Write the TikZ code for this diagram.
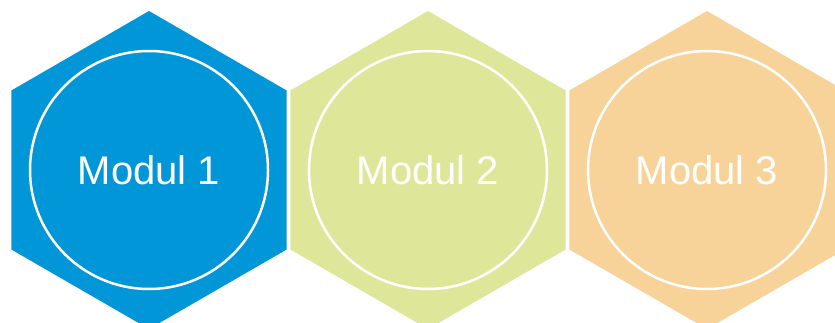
\documentclass[tikz,border=0pt]{standalone}
\usepackage{fontspec}
\setmainfont{Liberation Sans}
\usetikzlibrary{shapes.geometric}
\definecolor{modblue}{RGB}{0,150,215}
\definecolor{modgreen}{RGB}{222,231,153}
\definecolor{modorange}{RGB}{248,211,153}
\tikzset{
  hexa/.style={regular polygon, regular polygon sides=6, shape border rotate=30,
    minimum size=318pt, inner sep=0pt, outer sep=0pt, draw=none},
  ring/.style={circle, draw=white, line width=2.5pt, minimum size=238pt,
    inner sep=0pt, text=white, font=\fontsize{40}{48}\selectfont},
}
\begin{document}
\begin{tikzpicture}[x=1pt,y=1pt]
  \useasboundingbox (0,0) rectangle (835,322);
  \clip (0,0) rectangle (835,322);
  % hexagonal tiles
  \node[hexa, fill=modblue]   (h1) at (149,152) {};
  \node[hexa, fill=modgreen]  (h2) at (428,152) {};
  \node[hexa, fill=modorange] (h3) at (707,152) {};
  % white rings with module labels
  \node[ring] (m1) at (h1.center) {Modul 1};
  \node[ring] (m2) at (h2.center) {Modul 2};
  \node[ring] (m3) at (h3.center) {Modul 3};
\end{tikzpicture}
\end{document}
